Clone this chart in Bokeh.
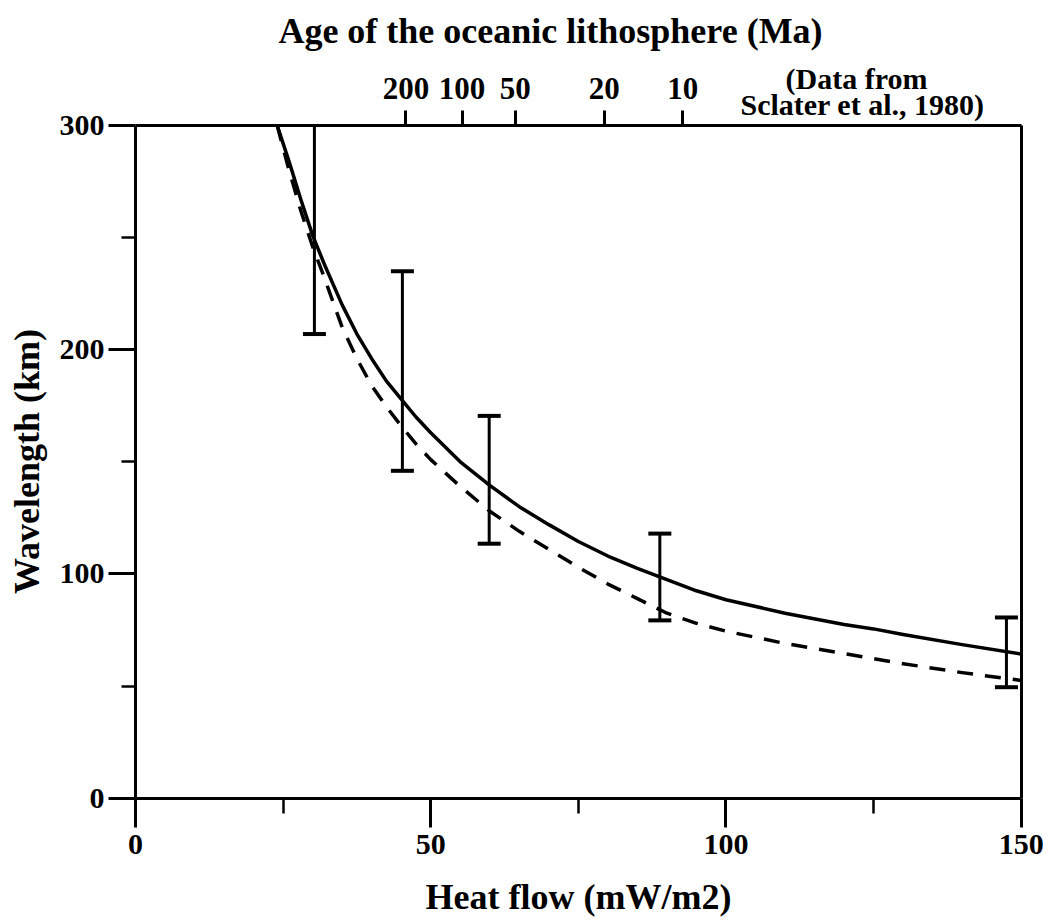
import math
from bokeh.plotting import figure
from bokeh.models import LinearAxis, FixedTicker, Range1d, ColumnDataSource
from bokeh.core.properties import value
from bokeh.embed import file_html
from bokeh.resources import INLINE

# ---- data ----
heat_flow_solid = [24, 26, 28, 30, 32, 35, 37.5, 40, 42.5, 45, 47.5, 50, 55, 60, 65, 70, 75, 80, 85, 90, 95,
                   100, 110, 120, 125, 130, 140, 150]
wavelength_solid = [300, 284, 267, 251, 238, 220, 207, 196, 186, 178, 170, 163, 150, 139.5, 130, 122, 114.5, 108,
                    102.5, 97.5, 92.5, 88.5, 82.5, 77.5, 75.5, 73, 68.5, 64.3]

heat_flow_dashed = [24, 25, 26, 27, 28, 30, 32, 35, 37.5, 40, 42.5, 45, 47.5, 50, 55, 60, 65, 70, 75, 80, 85, 90,
                    95, 100, 110, 120, 130, 140, 150]
wavelength_dashed = [300, 290, 280, 271, 262, 246, 232, 210, 196, 184, 174.5, 166, 158, 151, 139, 128, 119, 111,
                     103, 95.5, 89, 82.5, 78, 74.5, 69, 64.5, 60, 56, 52.5]

bar_heat_flow = [30.3, 45.2, 59.9, 88.8, 147.5]
bar_low = [207, 146, 113.5, 79.3, 49.5]
bar_high = [300, 235, 170.5, 118, 80.6]   # first bar runs off the top of the scale

age_labels = ["200", "100", "50", "20", "10"]
age_heat_flow = [45.8, 55.3, 64.3, 79.4, 92.7]

x_ticks = [0, 50, 100, 150]
x_minor = [25, 75, 125]
y_ticks = [0, 100, 200, 300]
y_minor = [50, 150, 250]

X_MAX = 150
Y_MAX = 300

title_text = "Age of the oceanic lithosphere (Ma)"
source_lines = ["(Data from", "Sclater et al., 1980)"]
x_title = "Heat flow (mW/m2)"
y_title = "Wavelength (km)"

FONT = "Liberation Serif"

W, H = 1048, 920
# pixel geometry of the plotting box inside the canvas
PX_L, PX_R, PX_T, PX_B = 135.0, 1020.7, 125.0, 797.7
sx = (PX_R - PX_L) / X_MAX
sy = (PX_B - PX_T) / Y_MAX

p = figure(width=W, height=H,
           x_range=Range1d(-PX_L / sx, (W - PX_L) / sx),
           y_range=Range1d(-(H - PX_B) / sy, Y_MAX + PX_T / sy),
           output_backend="svg", toolbar_location=None,
           x_axis_type=None, y_axis_type=None,
           min_border_left=0, min_border_right=0, min_border_top=0, min_border_bottom=0)
p.outline_line_color = None
p.background_fill_color = "white"
p.border_fill_color = "white"

def style(ax, tick_out, minor_out, standoff, size):
    ax.axis_line_width = 3
    ax.axis_line_color = "black"
    ax.major_tick_line_width = 3
    ax.minor_tick_line_width = 2.5
    ax.major_tick_in = 0
    ax.minor_tick_in = 0
    ax.major_tick_out = tick_out
    ax.minor_tick_out = minor_out
    ax.major_label_standoff = standoff
    ax.major_label_text_font = FONT
    ax.major_label_text_font_style = "bold"
    ax.major_label_text_font_size = size
    ax.major_label_text_color = "black"

xb = LinearAxis(ticker=FixedTicker(ticks=x_ticks, minor_ticks=x_minor),
                fixed_location=0, bounds=(0, X_MAX))
style(xb, 29, 15, 8, "30px")
p.add_layout(xb, "below")

yl = LinearAxis(ticker=FixedTicker(ticks=y_ticks, minor_ticks=y_minor),
                fixed_location=0, bounds=(0, Y_MAX))
style(yl, 27, 14, 4, "30px")
p.add_layout(yl, "left")

xt = LinearAxis(ticker=FixedTicker(ticks=age_heat_flow, minor_ticks=[]),
                major_label_overrides={v: s for v, s in zip(age_heat_flow, age_labels)},
                fixed_location=Y_MAX, bounds=(0, X_MAX))
style(xt, 15, 0, 12, "31px")
p.add_layout(xt, "above")

yr = LinearAxis(ticker=FixedTicker(ticks=[], minor_ticks=[]),
                fixed_location=X_MAX, bounds=(0, Y_MAX))
style(yr, 0, 0, 0, "1px")
yr.major_label_text_color = None
p.add_layout(yr, "right")

# curves
p.line(heat_flow_solid, wavelength_solid, line_color="black", line_width=3.5, line_join="round")
p.line(heat_flow_dashed, wavelength_dashed, line_color="black", line_width=3.5, line_dash="16 12",
       line_join="round")

# error bars
src = ColumnDataSource(dict(x=bar_heat_flow, lo=bar_low, hi=bar_high))
p.segment(x0="x", y0="lo", x1="x", y1="hi", source=src, line_color="black", line_width=3)
p.dash(x="x", y="lo", source=src, size=23, line_width=4, line_color="black")
cap_x = [x for x, h in zip(bar_heat_flow, bar_high) if h < Y_MAX]
cap_y = [h for h in bar_high if h < Y_MAX]
p.dash(x=cap_x, y=cap_y, size=23, line_width=4, line_color="black")

# texts (positioned in pixel terms, converted through the scales)
def tx(px):
    return (px - PX_L) / sx

def ty(py):
    return (PX_B - py) / sy

def text(t, px, py, size, angle=0.0):
    p.text(x=[tx(px)], y=[ty(py)], text=[t], angle=angle,
           text_font=value(FONT), text_font_style="bold", text_font_size=size,
           text_align="center", text_baseline="middle", text_color="black")

text(title_text, 550, 30, "36px")
text(source_lines[0], 856, 78, "30px")
text(source_lines[1], 862, 104, "30px")
text(y_title, 26, 461, "36px", angle=math.pi / 2)
text(x_title, 578, 896, "36px")

open("out.html", "w").write(file_html(p, INLINE))
